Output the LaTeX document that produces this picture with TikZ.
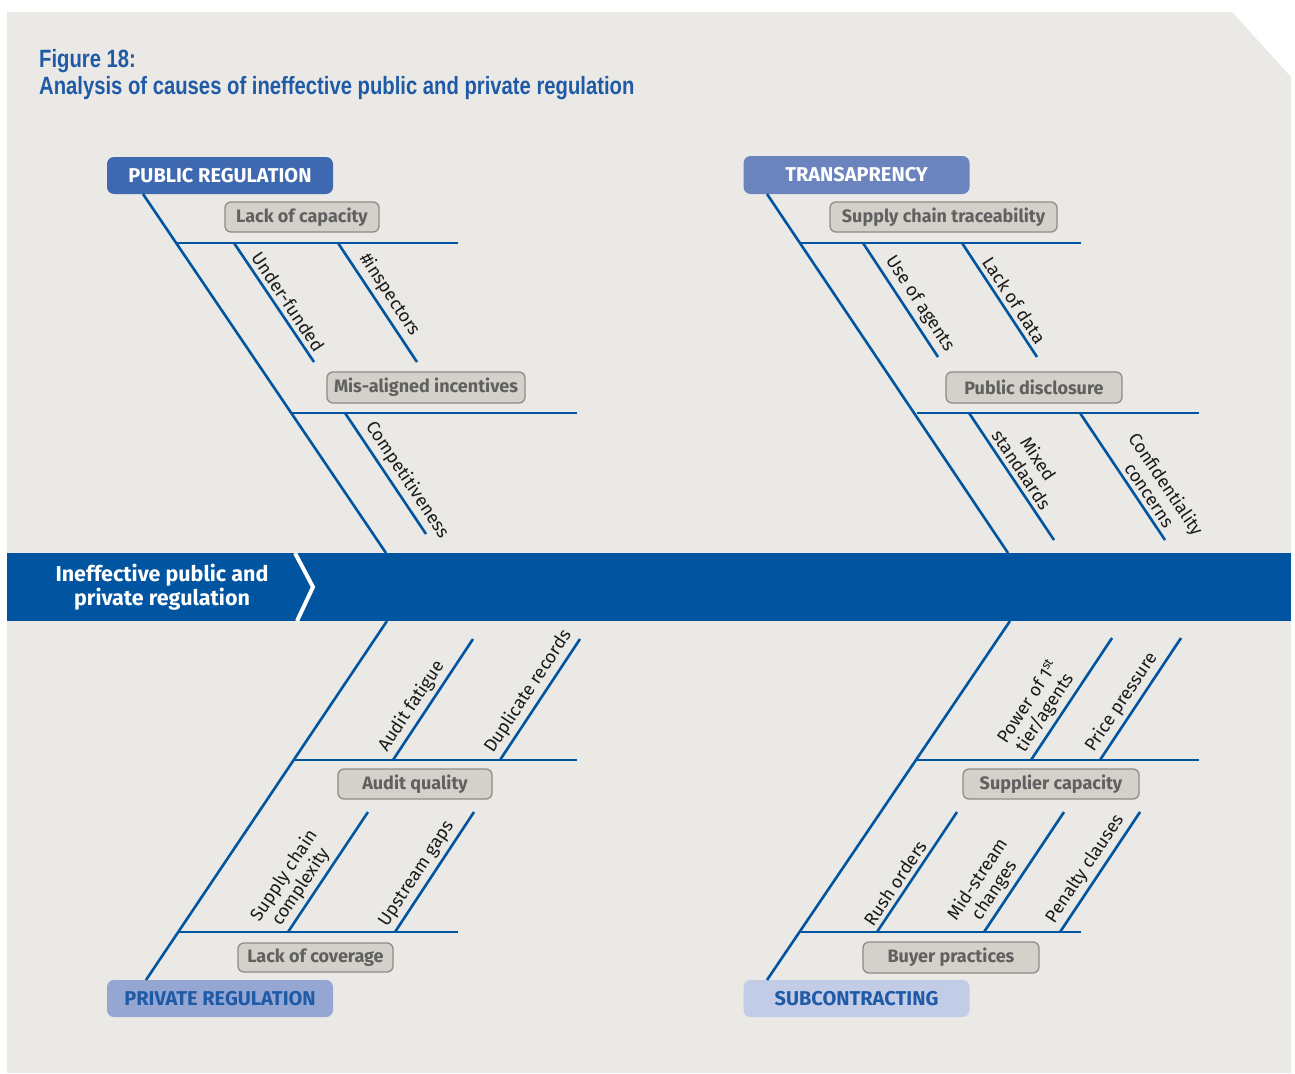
\documentclass[tikz,border=0pt]{standalone}
\usepackage{fontspec}
\setmainfont{Fira Sans}
\newfontfamily\titlefont{Liberation Sans}
\definecolor{paper}{HTML}{EBE9E5}
\definecolor{spine}{HTML}{0054A0}
\definecolor{titleblue}{HTML}{1F5AA6}
\definecolor{headA}{HTML}{3E68AF}
\definecolor{headB}{HTML}{6C84BE}
\definecolor{headC}{HTML}{95A6D3}
\definecolor{headD}{HTML}{C3CCE7}
\definecolor{causefill}{HTML}{D4D0CA}
\definecolor{causeline}{HTML}{8D8C88}
\definecolor{causetext}{HTML}{606060}
\definecolor{twigtext}{HTML}{1A1A1A}

% condensed bold heading
\newcommand{\condensed}[1]{\scalebox{0.81}[1]{#1}}

\tikzset{
  bone/.style={draw=spine, line width=2.6pt},
  header/.style={rounded corners=7pt, minimum width=226pt, minimum height=37pt,
    inner sep=0pt, font=\fontsize{20}{22}\selectfont\bfseries},
  cause/.style={draw=causeline, line width=1.3pt, fill=causefill, rounded corners=6pt,
    minimum height=30pt, inner sep=0pt, text=causetext,
    font=\fontsize{18}{20}\selectfont\bfseries},
  twiglabel/.style={sloped, above, inner sep=4pt, align=center, text=twigtext,
    font=\fontsize{18}{20}\selectfont},
  titletext/.style={anchor=base west, inner sep=0pt, text=titleblue,
    font=\titlefont\bfseries\fontsize{25}{27}\selectfont},
}

% a small bone: name, start on the rib, free end, label position, label
\newcommand{\twig}[5]{%
  \coordinate (#1-a) at (#2);
  \coordinate (#1-b) at (#3);
  \draw[bone] (#1-a) -- node[twiglabel, pos=#4] (#1) {#5} (#1-b);
}
% a rib: name, root on the main bone, end
\newcommand{\rib}[3]{%
  \coordinate (#1-a) at (#2);
  \coordinate (#1-b) at (#3);
  \draw[bone] (#1-a) -- (#1-b);
}

\begin{document}
\begin{tikzpicture}[x=1pt, y=-1pt]
\useasboundingbox (0,0) rectangle (1295,1073);
\fill[white] (0,0) rectangle (1295,1073);
\fill[paper] (7,12) -- (1232,12) -- (1291,77) -- (1291,1073) -- (7,1073) -- cycle;

% title
\node[titletext] (title1) at (39,67) {\condensed{Figure 18:}};
\node[titletext] (title2) at (39,94) {\condensed{Analysis of causes of ineffective public and private regulation}};

% the head (effect) band
\fill[spine] (7,553) rectangle (1291,621);
\node[text=white, align=center, font=\fontsize{21.5}{24}\selectfont\bfseries] (effect) at (162,587)
  {Ineffective public and\\private regulation};
\draw[white, line width=4pt] (295,553) -- (313,587) -- (297,621);

% category headers
\node[header, fill=headA, text=white] (pubreg) at (220,175.5) {PUBLIC REGULATION};
\node[header, fill=headB, text=white, minimum height=38pt] (transp) at (856.5,175) {TRANSAPRENCY};
\node[header, fill=headC, text=titleblue] (privreg) at (220,998.5) {PRIVATE REGULATION};
\node[header, fill=headD, text=titleblue] (subcon) at (856.5,998.5) {SUBCONTRACTING};

% main bones
\coordinate (pubreg-root) at (143,194);
\coordinate (pubreg-tail) at (386,553);
\coordinate (transp-root) at (767,194);
\coordinate (transp-tail) at (1008,553);
\coordinate (privreg-root) at (146,980);
\coordinate (privreg-tail) at (387,621);
\coordinate (subcon-root) at (767,980);
\coordinate (subcon-tail) at (1010,621);
\draw[bone] (pubreg-root) -- (pubreg-tail);
\draw[bone] (transp-root) -- (transp-tail);
\draw[bone] (privreg-root) -- (privreg-tail);
\draw[bone] (subcon-root) -- (subcon-tail);

% ribs
\rib{capacity}{177,243}{458,243}
\rib{incent}{292,413}{577,413}
\rib{trace}{801,243}{1081,243}
\rib{disclose}{917,413}{1199,413}
\rib{auditq}{294,760}{577,760}
\rib{coverage}{177,932}{458,932}
\rib{supplier}{917,760}{1199,760}
\rib{buyer}{801,932}{1081,932}

% cause boxes
\node[cause, minimum width=154pt] (capacity) at (302,217) {Lack of capacity};
\node[cause, minimum width=198pt, minimum height=31pt] (incent) at (426,387.5) {Mis-aligned incentives};
\node[cause, minimum width=227pt] (trace) at (943.5,217) {Supply chain traceability};
\node[cause, minimum width=176pt, minimum height=31pt] (disclose) at (1034,387.5) {Public disclosure};
\node[cause, minimum width=154pt] (auditq) at (415,784) {Audit quality};
\node[cause, minimum width=155pt, minimum height=29pt] (coverage) at (315.5,957.5) {Lack of coverage};
\node[cause, minimum width=176pt] (supplier) at (1051,784) {Supplier capacity};
\node[cause, minimum width=176pt, minimum height=31pt] (buyer) at (951,957.5) {Buyer practices};

% small bones
\twig{underfunded}{234,243}{314,362}{0.55}{Under-funded}
\twig{inspectors}{338,243}{417,362}{0.5}{\#inspectors}
\twig{competit}{345,413}{426,534}{0.62}{Competitiveness}
\twig{agents}{863,243}{938,357}{0.6}{Use of agents}
\twig{lackdata}{962,243}{1037,357}{0.56}{Lack of data}
\twig{mixed}{969,413}{1054,540}{0.5}{Mixed\\standaards}
\twig{confid}{1080,413}{1165,540}{0.7}{Confidentiality\\concerns}
\twig{fatigue}{393,760}{473,639}{0.38}{Audit fatigue}
\twig{duplicate}{500,760}{580,639}{0.5}{Duplicate records}
\twig{complexity}{288,932}{368,812}{0.31}{Supply chain\\complexity}
\twig{upstream}{395,932}{474,812}{0.42}{Upstream gaps}
\twig{power}{1031,760}{1112,638}{0.32}{Power of 1\textsuperscript{st}\\tier/agents}
\twig{price}{1100,760}{1181,638}{0.41}{Price pressure}
\twig{rush}{877,932}{957,812}{0.35}{Rush orders}
\twig{midstream}{984,932}{1064,812}{0.28}{Mid-stream\\changes}
\twig{penalty}{1060,932}{1140,812}{0.46}{Penalty clauses}
\end{tikzpicture}
\end{document}
